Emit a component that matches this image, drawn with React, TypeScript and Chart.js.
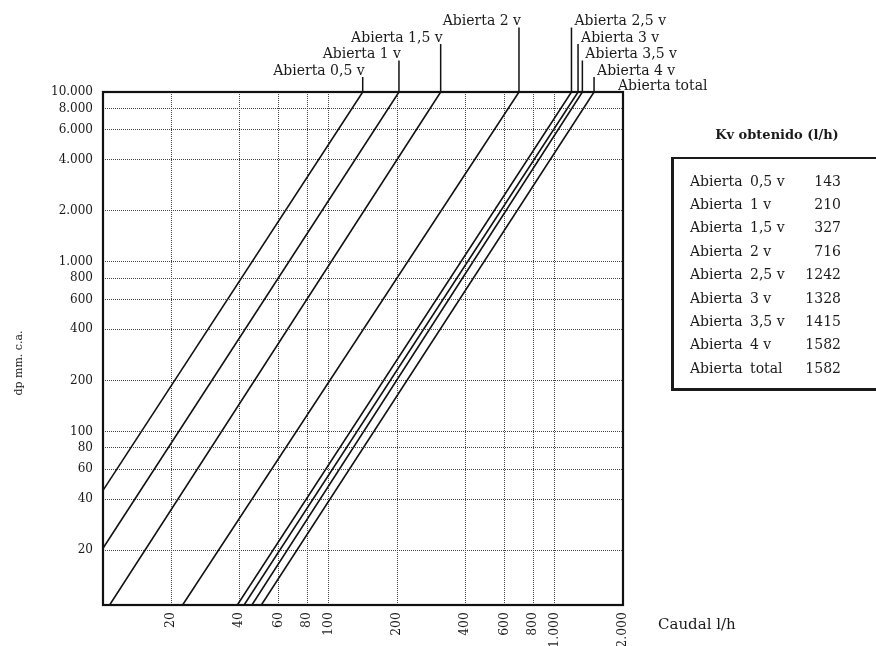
import { useEffect, useRef } from "react";
import { Chart, registerables } from "chart.js";

Chart.register(...registerables);

const FONT = '"DejaVu Serif", serif';
const INK = "#1a1a1a";

// Openings of the valve (series names)
const openings = ["0,5 v", "1 v", "1,5 v", "2 v", "2,5 v", "3 v", "3,5 v", "4 v", "total"];
// Kv values from the table (l/h)
const kvValues = [143, 210, 327, 716, 1242, 1328, 1415, 1582, 1582];

// Straight lines (log-log): start and end points
const lineStartQ = [10, 10, 10.7, 22.5, 39.3, 42.1, 45.6, 50.2];
const lineStartDp = [45, 20.5, 9.5, 9.5, 9.5, 9.5, 9.5, 9.5];
const lineEndQ = [141, 204, 312, 693, 1183, 1265, 1322, 1489];
const lineEndDp = [10000, 10000, 10000, 10000, 10000, 10000, 10000, 10000];

// Axis ticks
const xTickValues = [20, 40, 60, 80, 100, 200, 400, 600, 800, 1000, 2000];
const xTickLabels = ["20", "40", "60", "80", "100", "200", "400", "600", "800", "1.000", "2.000"];
const yTickValues = [20, 40, 60, 80, 100, 200, 400, 600, 800, 1000, 2000, 4000, 6000, 8000, 10000];
const yTickLabels = ["20", "40", "60", "80", "100", "200", "400", "600", "800", "1.000", "2.000", "4.000", "6.000", "8.000", "10.000"];

// Label layout for the top callouts (row level and side)
const labelLevels = [0, 1, 2, 3, 3, 2, 1, 0];
const labelSides = ["left", "left", "left", "left", "right", "right", "right", "right"];

const annotPlugin = {
  id: "annot",
  afterDraw(chart: any) {
    const { ctx, chartArea: a, scales } = chart;
    const xs = scales.x;
    ctx.save();
    // frame
    ctx.strokeStyle = "#111";
    ctx.lineWidth = 2.2;
    ctx.strokeRect(a.left, a.top, a.right - a.left, a.bottom - a.top);

    // callouts
    ctx.font = `14px ${FONT}`;
    ctx.fillStyle = INK;
    ctx.textBaseline = "middle";
    ctx.lineWidth = 1.5;
    lineEndQ.forEach((q, i) => {
      const px = xs.getPixelForValue(q);
      const cy = a.top - 21 - 16.5 * labelLevels[i];
      ctx.beginPath();
      ctx.moveTo(px, a.top);
      ctx.lineTo(px, cy + 6);
      ctx.stroke();
      const name = "Abierta " + openings[i];
      if (labelSides[i] === "left") {
        ctx.textAlign = "right";
        ctx.fillText(name, px + 2, cy);
      } else {
        ctx.textAlign = "left";
        ctx.fillText(name, px + 3, cy);
      }
    });
    ctx.textAlign = "left";
    ctx.fillText("Abierta " + openings[8], a.right - 5, a.top - 21 + 15);

    // x title
    ctx.font = `15px ${FONT}`;
    ctx.fillText("Caudal l/h", a.right + 35, a.bottom + 20);

    // y title
    ctx.translate(19, 363);
    ctx.rotate(-Math.PI / 2);
    ctx.font = `11px ${FONT}`;
    ctx.textAlign = "center";
    ctx.fillText("dp mm. c.a.", 0, 0);
    ctx.restore();
  },
};

function ChartCanvas() {
  const ref = useRef<HTMLCanvasElement | null>(null);
  useEffect(() => {
    if (!ref.current) return;
    const datasets = lineStartQ.map((q0, i) => ({
      label: "Abierta " + openings[i],
      data: [
        { x: q0, y: lineStartDp[i] },
        { x: lineEndQ[i], y: lineEndDp[i] },
      ],
      borderColor: "#111",
      borderWidth: 1.6,
      pointRadius: 0,
      showLine: true,
      fill: false,
    }));
    const gridCommon = {
      color: "#444",
      lineWidth: 1,
      drawTicks: false,
    };
    const chart = new Chart(ref.current, {
      type: "line",
      data: { datasets },
      plugins: [annotPlugin],
      options: {
        animation: false,
        responsive: true,
        maintainAspectRatio: false,
        layout: { padding: { top: 92, right: 253, left: 0, bottom: 0 } },
        plugins: { legend: { display: false }, tooltip: { enabled: false } },
        scales: {
          x: {
            type: "logarithmic",
            min: 10,
            max: 2000,
            grid: gridCommon,
            border: { display: false, dash: [1, 1] },
            afterBuildTicks: (s: any) => {
              s.ticks = xTickValues.map((v) => ({ value: v }));
            },
            afterFit: (s: any) => {
              s.height = 41;
            },
            ticks: {
              autoSkip: false,
              minRotation: 90,
              maxRotation: 90,
              padding: 7,
              color: INK,
              font: { family: FONT, size: 12.5 },
              callback: (v: any) => {
                const i = xTickValues.indexOf(Number(v));
                return i >= 0 ? xTickLabels[i] : "";
              },
            },
          },
          y: {
            type: "logarithmic",
            min: 9.5,
            max: 10000,
            grid: gridCommon,
            border: { display: false, dash: [1, 1] },
            afterBuildTicks: (s: any) => {
              s.ticks = yTickValues.map((v) => ({ value: v }));
            },
            afterFit: (s: any) => {
              s.width = 103;
            },
            ticks: {
              autoSkip: false,
              padding: 10,
              color: INK,
              font: { family: FONT, size: 12 },
              callback: (v: any) => {
                const i = yTickValues.indexOf(Number(v));
                return i >= 0 ? yTickLabels[i] : "";
              },
            },
          },
        },
      } as any,
    });
    return () => chart.destroy();
  }, []);
  return <canvas ref={ref} />;
}

export default function App() {
  const rowTop = 169.5;
  const rowH = 23.4;
  return (
    <div
      style={{
        position: "absolute",
        left: 0,
        top: 0,
        width: 876,
        height: 646,
        overflow: "hidden",
        background: "#fff",
        fontFamily: FONT,
        color: INK,
      }}
    >
      <div style={{ position: "absolute", left: 0, top: 0, width: 876, height: 646 }}>
        <ChartCanvas />
      </div>
      <div
        style={{
          position: "absolute",
          left: 677,
          width: 200,
          top: 126,
          textAlign: "center",
          fontWeight: "bold",
          fontSize: 13,
          lineHeight: "18px",
        }}
      >
        Kv obtenido (l/h)
      </div>
      <div
        style={{
          position: "absolute",
          left: 671,
          top: 157,
          width: 215,
          height: 229,
          borderTop: `2px solid ${INK}`,
          borderLeft: `3px solid ${INK}`,
          borderBottom: `3px solid ${INK}`,
          borderRight: `2px solid ${INK}`,
        }}
      />
      {openings.map((op, i) => (
        <div
          key={op}
          style={{
            position: "absolute",
            left: 0,
            top: rowTop + rowH * i,
            height: rowH,
            lineHeight: `${rowH}px`,
            fontSize: 14,
            width: 876,
          }}
        >
          <span style={{ position: "absolute", left: 690 }}>Abierta</span>
          <span style={{ position: "absolute", left: 750 }}>{op}</span>
          <span style={{ position: "absolute", right: 876 - 841 }}>{kvValues[i]}</span>
        </div>
      ))}
    </div>
  );
}
